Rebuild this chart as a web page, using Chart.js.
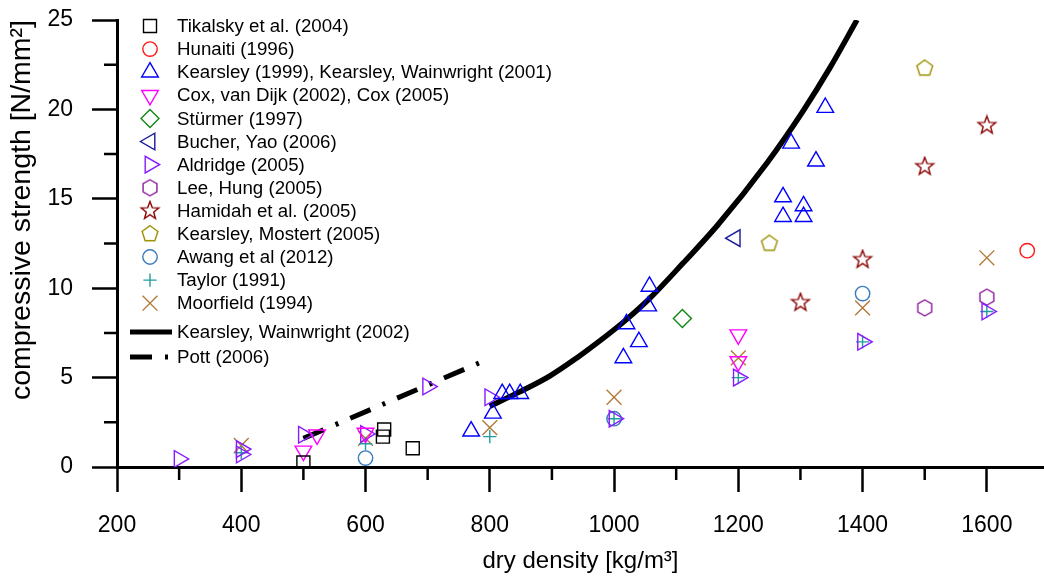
<!DOCTYPE html>
<html>
<head>
<meta charset="utf-8">
<script src="https://cdn.jsdelivr.net/npm/chart.js@4.4.1/dist/chart.umd.min.js"></script>
<style>
  html, body { margin: 0; padding: 0; background: #fff; }
  #wrap { width: 1044px; height: 579px; }
</style>
</head>
<body>
<div id="wrap"><canvas id="chart" width="1044" height="579"></canvas></div>
<script>
// values
const tikalskyX = [500, 630, 628, 676];
const tikalskyY = [0.25, 2.1, 1.7, 1.05];
const hunaitiX = [1665];
const hunaitiY = [12.1];
const kearsleyX = [770, 805, 820, 832, 849, 1015, 1020, 1040, 1055, 1057, 1272, 1272, 1285, 1305, 1305, 1325, 1340];
const kearsleyY = [2.0, 3.0, 4.1, 4.1, 4.1, 6.1, 8.0, 7.0, 9.0, 10.1, 15.1, 14.0, 18.1, 14.6, 14.0, 17.1, 20.1];
const coxX = [500, 522, 600, 1200, 1200];
const coxY = [0.9, 1.8, 1.9, 7.4, 5.9];
const sturmerX = [1110];
const sturmerY = [8.3];
const bucherX = [1195];
const bucherY = [12.8];
const aldridgeX = [300, 400, 400, 500, 600, 700, 800, 1000, 1200, 1400, 1600];
const aldridgeY = [0.45, 0.7, 1.0, 1.8, 1.85, 4.5, 3.9, 2.7, 5.0, 7.0, 8.7];
const leeX = [1500, 1600];
const leeY = [8.9, 9.5];
const hamidahX = [1300, 1400, 1500, 1600];
const hamidahY = [9.2, 11.6, 16.8, 19.1];
const mostertX = [1250, 1500];
const mostertY = [12.5, 22.3];
const awangX = [600, 1000, 1400];
const awangY = [0.5, 2.7, 9.7];
const taylorX = [400, 600, 800, 1000, 1200, 1400, 1600];
const taylorY = [0.8, 1.3, 1.7, 2.7, 5.0, 7.0, 8.7];
const moorfieldX = [400, 600, 800, 1000, 1200, 1400, 1600];
const moorfieldY = [1.2, 1.6, 2.2, 3.9, 6.1, 8.9, 11.7];
// Kearsley, Wainwright (2002) curve
const kwCurveX = [800, 848, 897, 940, 977, 1020, 1058, 1111, 1166, 1246, 1304, 1347, 1391];
const kwCurveY = [3.4, 4.2, 5.1, 6.1, 7.05, 8.25, 9.45, 11.4, 13.5, 17.0, 19.9, 22.3, 25.0];
// Pott (2006)
const pottX = [500, 795];
const pottY = [1.6, 6.0];

// all tick positions, and the ones that get a label / long tick
const xTickValues = [200, 300, 400, 500, 600, 700, 800, 900, 1000, 1100, 1200, 1300, 1400, 1500, 1600];
const xTicks = [200, 400, 600, 800, 1000, 1200, 1400, 1600];
const yTicks = [0, 5, 10, 15, 20, 25];

const toPts = (xs, ys) => xs.map((v, i) => ({ x: v, y: ys[i] }));

// symbols that chart.js does not have
function shape(kind, color) {
  const s = 22;
  const c = document.createElement("canvas");
  c.width = s;
  c.height = s;
  const g = c.getContext("2d");
  g.strokeStyle = color;
  g.lineWidth = 1.4;
  g.beginPath();
  const cx = s / 2, cy = s / 2;
  let n, r1, r2;
  if (kind === "pentagon") { n = 5; r1 = 8.3; r2 = 8.3; }
  if (kind === "hexagon") { n = 6; r1 = 8; r2 = 8; }
  if (kind === "star") { n = 5; r1 = 9.3; r2 = 3.9; }
  const steps = kind === "star" ? n * 2 : n;
  for (let i = 0; i < steps; i++) {
    const a = -Math.PI / 2 + (i * 2 * Math.PI) / steps;
    const r = kind === "star" && i % 2 ? r2 : r1;
    const px = cx + r * Math.cos(a), py = cy + r * Math.sin(a);
    if (i) g.lineTo(px, py); else g.moveTo(px, py);
  }
  g.closePath();
  g.stroke();
  return c;
}

function series(label, xs, ys, color, style, radius, rotation) {
  return {
    label: label,
    data: toPts(xs, ys),
    showLine: false,
    pointStyle: style,
    pointRadius: radius,
    pointRotation: rotation || 0,
    pointBorderColor: color,
    pointBackgroundColor: "rgba(0,0,0,0)",
    pointBorderWidth: 1.4,
    borderColor: color,
  };
}

const datasets = [
  series("Tikalsky et al. (2004)", tikalskyX, tikalskyY, "#000000", "rect", 9.2),
  series("Hunaiti (1996)", hunaitiX, hunaitiY, "#ff1a1a", "circle", 7.2),
  series("Kearsley (1999), Kearsley, Wainwright (2001)", kearsleyX, kearsleyY, "#0000ff", "triangle", 9.6),
  series("Cox, van Dijk (2002), Cox (2005)", coxX, coxY, "#ff00ff", "triangle", 9.6, 180),
  series("Stürmer (1997)", sturmerX, sturmerY, "#118811", "rectRot", 9),
  series("Bucher, Yao (2006)", bucherX, bucherY, "#1a1a9a", "triangle", 9.6, 270),
  series("Aldridge (2005)", aldridgeX, aldridgeY, "#8a1aff", "triangle", 9.6, 90),
  series("Lee, Hung (2005)", leeX, leeY, "#8a1a9a", shape("hexagon", "#8a1a9a"), 8),
  series("Hamidah et al. (2005)", hamidahX, hamidahY, "#8b0000", shape("star", "#8b0000"), 9),
  series("Kearsley, Mostert (2005)", mostertX, mostertY, "#9a9000", shape("pentagon", "#9a9000"), 8),
  series("Awang et al (2012)", awangX, awangY, "#3a7abf", "circle", 7.2),
  series("Taylor (1991)", taylorX, taylorY, "#1f9e9e", "cross", 6.6),
  series("Moorfield (1994)", moorfieldX, moorfieldY, "#b07a3a", "crossRot", 10.5),
  {
    label: "Kearsley, Wainwright (2002)",
    data: toPts(kwCurveX, kwCurveY),
    showLine: true,
    borderColor: "#000",
    borderWidth: 5.5,
    pointRadius: 0,
    cubicInterpolationMode: "monotone",
    isLine: true,
  },
  {
    label: "Pott (2006)",
    data: toPts(pottX, pottY),
    showLine: true,
    borderColor: "#000",
    borderWidth: 5,
    borderDash: [22, 13, 3, 13],
    borderCapStyle: "butt",
    pointRadius: 0,
    isLine: true,
  },
];

// minor ticks are shorter than the major ones
const minorTicks = {
  id: "minorTicks",
  afterDraw(chart) {
    const { ctx, scales: { x, y } } = chart;
    ctx.save();
    ctx.strokeStyle = "#000";
    ctx.lineWidth = 2.5;
    ctx.beginPath();
    x.ticks.forEach((t) => {
      if (!xTicks.includes(t.value)) {
        const px = x.getPixelForValue(t.value);
        ctx.moveTo(px, x.top);
        ctx.lineTo(px, x.top + 13);
      }
    });
    y.ticks.forEach((t) => {
      if (!yTicks.includes(t.value)) {
        const py = y.getPixelForValue(t.value);
        ctx.moveTo(y.right, py);
        ctx.lineTo(y.right - 13, py);
      }
    });
    ctx.stroke();
    ctx.restore();
  },
};

// legend inside the plot, top left
const sideLegend = {
  id: "sideLegend",
  afterDraw(chart) {
    const ctx = chart.ctx;
    ctx.save();
    ctx.font = "18.7px 'Liberation Sans', Arial, sans-serif";
    ctx.textBaseline = "middle";
    ctx.fillStyle = "#000";
    let row = 26;
    chart.data.datasets.forEach((ds, i) => {
      let yy;
      if (ds.isLine) {
        yy = i === 13 ? 332 : 357;
        ctx.strokeStyle = "#000";
        ctx.lineWidth = 5;
        ctx.beginPath();
        ctx.setLineDash(ds.borderDash || []);
        ctx.moveTo(130, yy);
        ctx.lineTo(172, yy);
        ctx.stroke();
        ctx.setLineDash([]);
      } else {
        yy = row;
        row += 23.1;
        ctx.strokeStyle = ds.pointBorderColor;
        ctx.fillStyle = "rgba(0,0,0,0)";
        ctx.lineWidth = ds.pointBorderWidth;
        if (Chart.helpers && Chart.helpers.drawPoint) {
          Chart.helpers.drawPoint(ctx, {
            pointStyle: ds.pointStyle,
            radius: ds.pointRadius,
            rotation: ds.pointRotation,
            borderWidth: ds.pointBorderWidth,
          }, 150, yy);
        }
      }
      ctx.fillStyle = "#000";
      ctx.fillText(ds.label, 177, yy + 1);
    });
    ctx.restore();
  },
};

const font = "'Liberation Sans', Arial, sans-serif";

new Chart(document.getElementById("chart"), {
  type: "scatter",
  data: { datasets: datasets },
  options: {
    responsive: false,
    animation: false,
    layout: { autoPadding: false, padding: { top: 20, right: 0, bottom: 0, left: 0 } },
    plugins: {
      legend: { display: false },
      tooltip: { enabled: false },
    },
    scales: {
      x: {
        type: "linear",
        min: 200,
        max: 1692,
        afterFit: (s) => {
          s.height = 112;
          s.paddingLeft = 0;
          s.paddingRight = 0;
        },
        afterBuildTicks: (s) => { s.ticks = xTickValues.map((v) => ({ value: v })); },
        border: { display: true, color: "#000", width: 3 },
        grid: {
          drawOnChartArea: false,
          tickLength: 25,
          tickWidth: 2.5,
          tickColor: (c) => (c.tick && xTicks.includes(c.tick.value) ? "#000" : "rgba(0,0,0,0)"),
        },
        ticks: {
          autoSkip: false,
          maxRotation: 0,
          padding: 20,
          color: "#000",
          font: { family: font, size: 23 },
          callback: (v) => (xTicks.includes(v) ? v : ""),
        },
        title: {
          display: true,
          text: "dry density [kg/m³]",
          color: "#000",
          font: { family: font, size: 24 },
          padding: { top: 0, bottom: 3 },
        },
      },
      y: {
        type: "linear",
        min: 0,
        max: 25,
        afterFit: (s) => {
          s.width = 117;
          s.paddingTop = 0;
          s.paddingBottom = 0;
        },
        border: { display: true, color: "#000", width: 3 },
        grid: {
          drawOnChartArea: false,
          tickLength: 25,
          tickWidth: 2.5,
          tickColor: (c) => (c.tick && yTicks.includes(c.tick.value) ? "#000" : "rgba(0,0,0,0)"),
        },
        ticks: {
          stepSize: 2.5,
          autoSkip: false,
          padding: 19,
          color: "#000",
          font: { family: font, size: 23 },
          callback: (v) => (yTicks.includes(v) ? v : ""),
        },
        title: {
          display: true,
          text: "compressive strength [N/mm²]",
          align: "end",
          color: "#000",
          font: { family: font, size: 28.5 },
          padding: { top: 5, bottom: 0 },
        },
      },
    },
  },
  plugins: [minorTicks, sideLegend],
});
</script>
</body>
</html>
